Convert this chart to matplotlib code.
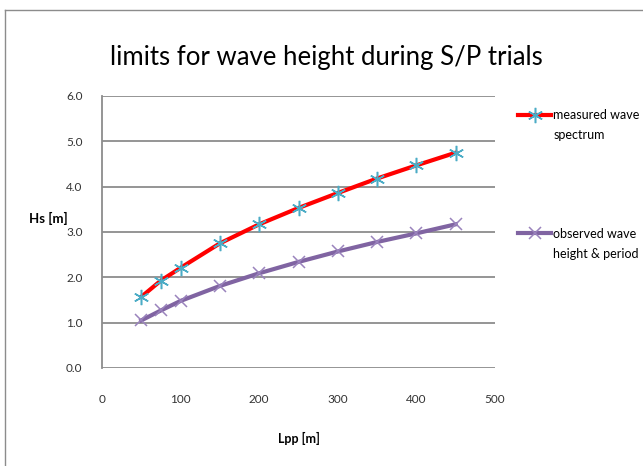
import matplotlib
matplotlib.use('Agg')
from matplotlib import pyplot as plt
from matplotlib.lines import Line2D
from matplotlib.legend_handler import HandlerLine2D

plt.rcParams['font.family'] = ['Lato', 'DejaVu Sans']

# Lpp [m]
lpp = [50, 75, 100, 150, 200, 250, 300, 350, 400, 450]
# Hs [m]
hs_spectrum = [1.57, 1.93, 2.21, 2.75, 3.17, 3.53, 3.86, 4.18, 4.47, 4.75]
hs_observed = [1.05, 1.27, 1.48, 1.81, 2.09, 2.34, 2.57, 2.78, 2.97, 3.17]

series_labels = ['measured wave\nspectrum', 'observed wave\nheight & period']
x_ticks = [0, 100, 200, 300, 400, 500]
y_ticks = [0.0, 1.0, 2.0, 3.0, 4.0, 5.0, 6.0]

grey = '#8c8c8c'


class FirstLineHandler(HandlerLine2D):
    # put the legend handle next to the first text line, like Excel does
    def create_artists(self, legend, orig_handle, xdescent, ydescent,
                       width, height, fontsize, trans):
        artists = super().create_artists(legend, orig_handle, xdescent, ydescent,
                                         width, height, fontsize, trans)
        for a in artists:
            a.set_ydata([y + 8 for y in a.get_ydata()])
        return artists


fig = plt.figure(figsize=(6.43, 4.66), dpi=100)
ax = fig.add_axes([102 / 643, 98 / 466, 393 / 643, 272 / 466])

ax.plot(lpp, hs_spectrum, color='#ff0000', lw=3, marker=(6, 2, 0), ms=11,
        mec='#4bacc6', mew=1.1, label=series_labels[0], zorder=3)
ax.plot(lpp, hs_observed, color='#8064a2', lw=3, marker='x', ms=9,
        mec='#9a83bd', mew=1.1, label=series_labels[1], zorder=3)

ax.set_xlim(0, 500)
ax.set_ylim(0, 6)
ax.set_xticks(x_ticks)
ax.set_yticks(y_ticks)
ax.set_yticklabels([f'{v:.1f}' for v in y_ticks])
ax.tick_params(length=0, labelsize=8.5, colors='#333333')
ax.tick_params(axis='y', pad=14)
ax.tick_params(axis='x', pad=19)
ax.grid(axis='y', color=grey, lw=1.3)
ax.set_axisbelow(True)
for s in ['top', 'right', 'bottom']:
    ax.spines[s].set_visible(False)
ax.spines['left'].set_color(grey)
ax.spines['left'].set_linewidth(1.3)

ax.set_title('limits for wave height during S/P trials', fontsize=18.5, pad=22,
             x=(326 - 102) / 393)
ax.set_xlabel('Lpp [m]', fontsize=9, fontweight='bold')
ax.xaxis.set_label_coords(0.5, -0.235)
ax.set_ylabel('Hs [m]', fontsize=9.5, fontweight='bold', rotation=0, va='center')
ax.yaxis.set_label_coords(-0.137, 0.551)

leg = fig.legend(loc='upper left', bbox_to_anchor=(512 / 643, 1 - 103 / 466),
                 frameon=False, fontsize=9, handlelength=2.6, handletextpad=0.2,
                 labelspacing=6.9, borderpad=0,
                 handler_map={Line2D: FirstLineHandler()})
for t in leg.get_texts():
    t.set_linespacing(1.8)

# chart area border (left and top edges visible)
fig.add_artist(Line2D([5 / 643, 5 / 643], [0, 1 - 10 / 466], transform=fig.transFigure,
                      color=grey, lw=1))
fig.add_artist(Line2D([5 / 643, 1], [1 - 10 / 466, 1 - 10 / 466], transform=fig.transFigure,
                      color=grey, lw=1))

fig.savefig('out.png', dpi=100)
